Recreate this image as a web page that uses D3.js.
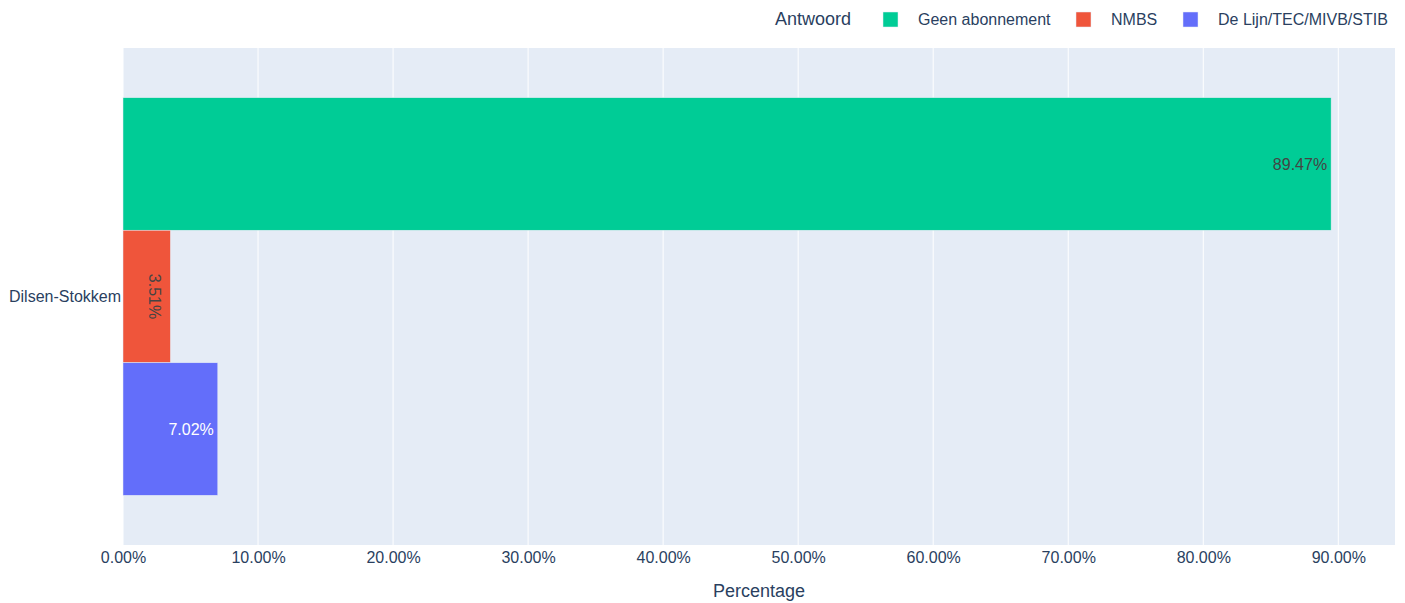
<!DOCTYPE html>
<html><head><meta charset="utf-8">
<script src="https://cdn.jsdelivr.net/npm/d3@7"></script>
<style>body{margin:0;background:#fff;} svg{font-family:"Liberation Sans",Arial,sans-serif;}</style>
</head><body>
<svg id="c" width="1405" height="603"></svg>
<script>
const categories = ["Dilsen-Stokkem"];
const seriesNames = ["Geen abonnement", "NMBS", "De Lijn/TEC/MIVB/STIB"];
const seriesValues = [[89.47], [3.51], [7.02]];
const seriesColors = ["#00CC96", "#EF553B", "#636EFA"];
const xTicks = [0,10,20,30,40,50,60,70,80,90];
const legendTitle = "Antwoord";
const xTitle = "Percentage";

const svg = d3.select("#c");
const m = {l:123, r:10, t:48, b:58};
const W = 1405, H = 603;
const pw = W - m.l - m.r, ph = H - m.t - m.b;
const x = d3.scaleLinear().domain([0, 94.2]).range([m.l, m.l + pw]);
const y = d3.scaleBand().domain(categories).range([m.t, m.t + ph]).paddingInner(0.2).paddingOuter(0.1);
const ys = d3.scaleBand().domain(seriesNames).range([0, y.bandwidth()]);
const txt = "#2a3f5f";

svg.append("rect").attr("x", m.l).attr("y", m.t).attr("width", pw).attr("height", ph).attr("fill", "#E5ECF6");
svg.append("g").selectAll("line").data(xTicks).join("line")
  .attr("x1", d=>x(d)).attr("x2", d=>x(d)).attr("y1", m.t).attr("y2", m.t+ph)
  .attr("stroke", "#fff").attr("stroke-width", 1);

const xAxis = svg.append("g").attr("transform", `translate(0,${m.t+ph})`)
  .call(d3.axisBottom(x).tickValues(xTicks).tickFormat(d=>d.toFixed(2)+"%").tickSize(0).tickPadding(7));
xAxis.select(".domain").remove();
xAxis.selectAll("text").attr("font-size", 16).attr("fill", txt).attr("font-family", "Liberation Sans, Arial, sans-serif");

const yAxis = svg.append("g").attr("transform", `translate(${m.l},0)`)
  .call(d3.axisLeft(y).tickSize(0).tickPadding(2));
yAxis.select(".domain").remove();
yAxis.selectAll("text").attr("font-size", 16).attr("fill", txt).attr("font-family", "Liberation Sans, Arial, sans-serif");

svg.append("text").attr("x", m.l + pw/2).attr("y", 597).attr("text-anchor", "middle")
  .attr("font-size", 18).attr("fill", txt).text(xTitle);

const textColors = ["#444", "#444", "#fff"];
seriesNames.forEach((s, i) => {
  categories.forEach((c, j) => {
    const v = seriesValues[i][j];
    const by = y(c) + ys(s), bh = ys.bandwidth();
    svg.append("rect").attr("x", x(0)).attr("y", by).attr("width", x(v) - x(0)).attr("height", bh)
      .attr("fill", seriesColors[i]).attr("stroke", "#E5ECF6").attr("stroke-width", 0.5);
    const label = v.toFixed(2) + "%";
    const bw = x(v) - x(0);
    if (bw > 70) {
      svg.append("text").attr("x", x(v) - 4).attr("y", by + bh/2).attr("dy", "0.35em")
        .attr("text-anchor", "end").attr("font-size", 16).attr("fill", textColors[i]).text(label);
    } else {
      svg.append("text").attr("transform", `translate(${x(v) - 21},${by + bh/2}) rotate(90)`)
        .attr("text-anchor", "middle").attr("font-size", 16).attr("fill", textColors[i]).text(label);
    }
  });
});

// legend
const lg = svg.append("g");
lg.append("text").attr("x", 775).attr("y", 25).attr("font-size", 18).attr("fill", txt).text(legendTitle);
const legX = [883, 1076, 1183];
seriesNames.forEach((s, i) => {
  lg.append("rect").attr("x", legX[i]).attr("y", 12).attr("width", 15).attr("height", 15)
    .attr("fill", seriesColors[i]).attr("stroke", "#E5ECF6").attr("stroke-width", 0.5);
  lg.append("text").attr("x", legX[i] + 35).attr("y", 25).attr("font-size", 16).attr("fill", txt).text(s);
});
</script>
</body></html>
